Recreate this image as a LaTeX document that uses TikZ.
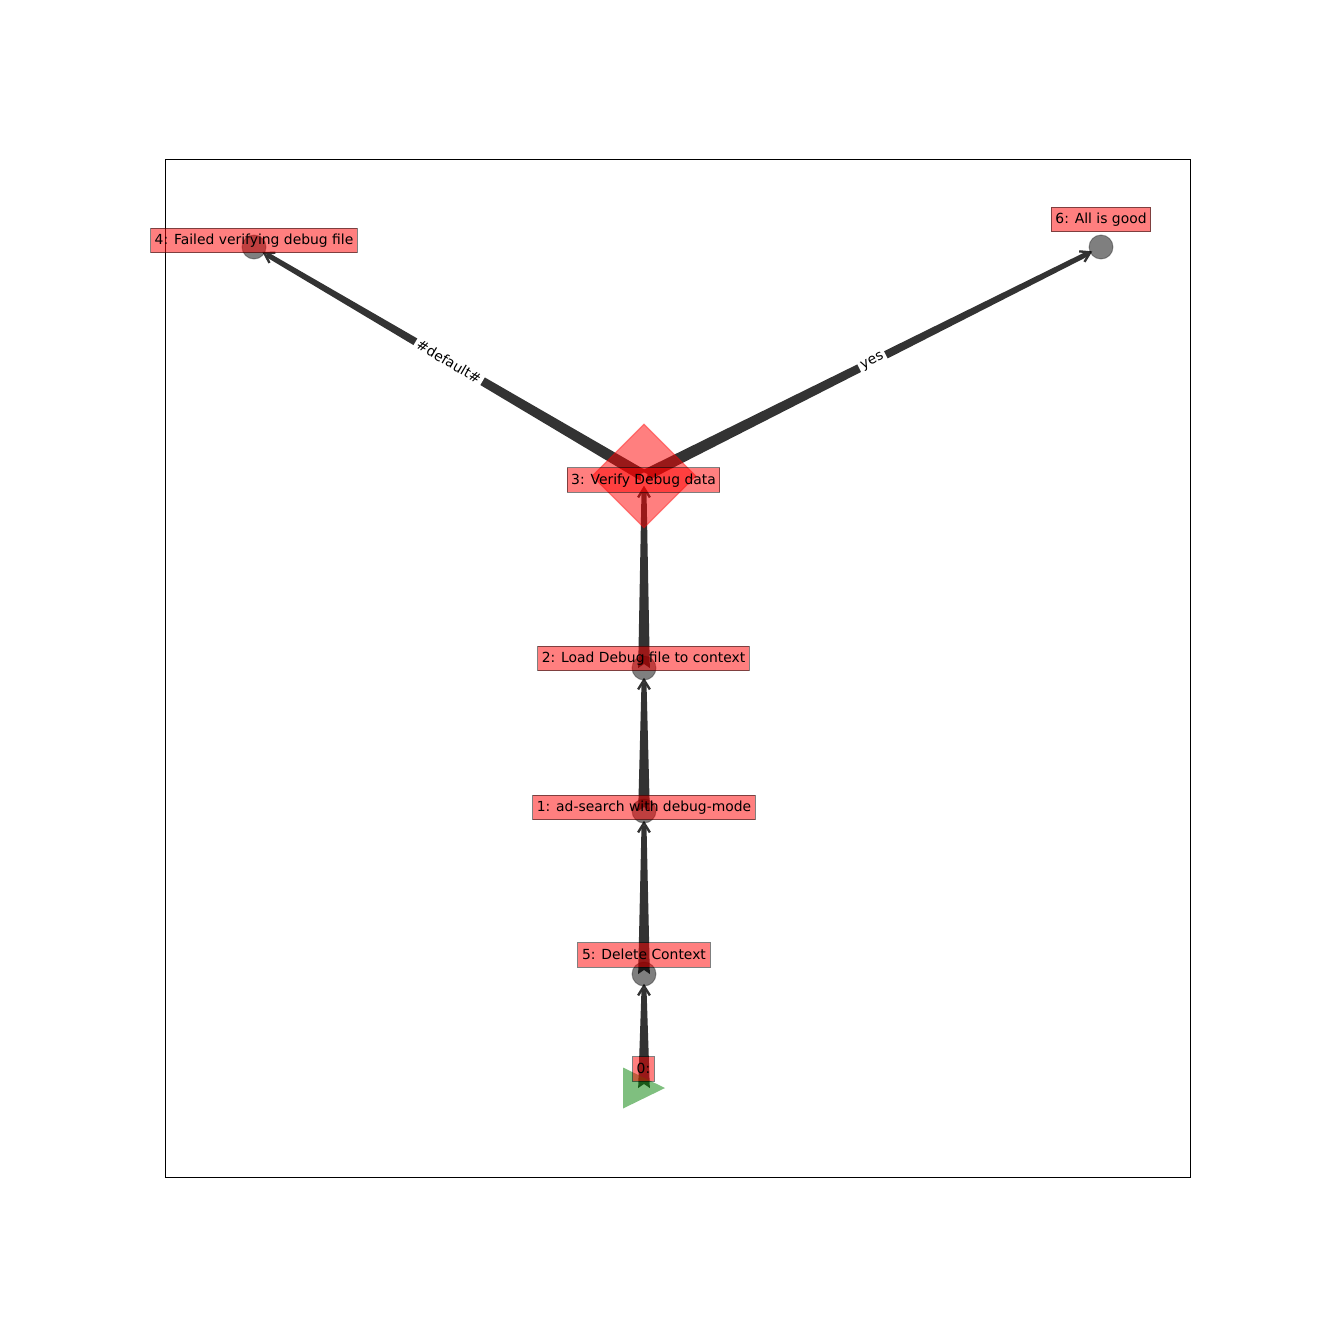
\documentclass[tikz,border=0pt]{standalone}
\usepackage{fontspec}
\setmainfont{DejaVu Sans}
\usetikzlibrary{calc,shapes.geometric}
\definecolor{edgecol}{gray}{0.2}
\tikzset{
  circnode/.style={circle, minimum size=17.28pt, inner sep=0pt, fill=black, fill opacity=0.5, draw=black, draw opacity=0.3, line width=0.72pt},
  diamnode/.style={diamond, aspect=1, minimum size=75pt, inner sep=0pt, fill=red, fill opacity=0.5, draw=red, draw opacity=0.4, line width=0.8pt},
  lab/.style={rectangle, fill=red, fill opacity=0.5, draw=black, draw opacity=0.5, text opacity=1, line width=0.72pt, inner xsep=3pt, inner ysep=3pt, text height=8.8pt, text depth=2.8pt, font=\fontsize{10pt}{12pt}\selectfont},
  elab/.style={fill=white, inner sep=2pt, sloped, pos=0.5, font=\fontsize{10pt}{12pt}\selectfont}
}
\newcommand\taperedge[2]{%
  \coordinate (tip) at ($(#2)!8.64pt!(#1)$);
  \coordinate (hb) at ($(#2)!10.5pt!(#1)$);
  \fill[edgecol] ($(#1)!4.2pt!90:(#2)$) -- ($(#1)!2.9pt!(#2)$) -- ($(#1)!4.2pt!-90:(#2)$) -- ($(hb)!1.8pt!90:(#1)$) -- ($(hb)!1.8pt!-90:(#1)$) -- cycle;
  \draw[edgecol, line width=1.7pt, line join=miter] ($(tip)!8pt!32:(#1)$) -- (tip) -- ($(tip)!8pt!-32:(#1)$);
}
\begin{document}
\begin{tikzpicture}[x=0.72pt, y=-0.72pt]
\useasboundingbox (0,0) rectangle (1322,1322);
\draw[line width=0.6pt] (165,159) rectangle (1190,1177);
% node centres
\coordinate (n0) at (644,1088);
\coordinate (n5) at (644,974);
\coordinate (n1) at (644,811);
\coordinate (n2) at (644,668);
\coordinate (n3) at (644,476);
\coordinate (n4) at (254,247);
\coordinate (n6) at (1101,247);
% edges
\taperedge{n0}{n5}
\taperedge{n5}{n1}
\taperedge{n1}{n2}
\taperedge{n2}{n3}
\taperedge{n3}{n4}
\taperedge{n3}{n6}
% markers
\fill[green!50!black, fill opacity=0.5] ($(n0)+(-21,-20.5)$) -- ($(n0)+(21,0)$) -- ($(n0)+(-21,20.5)$) -- cycle;
\node[circnode] (m5) at (n5) {};
\node[circnode] (m1) at (n1) {};
\node[circnode] (m2) at (n2) {};
\node[diamnode] (m3) at (n3) {};
\node[circnode] (m4) at (n4) {};
\node[circnode] (m6) at (n6) {};
% labels
\node[lab] (l0) at (643.5,1069) {0:};
\node[lab] (l5) at (644,955) {5: Delete Context};
\node[lab] (l1) at (644,807.5) {1: ad-search with debug-mode};
\node[lab] (l2) at (643.5,658.5) {2: Load Debug file to context};
\node[lab] (l3) at (643.5,480) {3: Verify Debug data};
\node[lab] (l4) at (254,240.5) {4: Failed verifying debug file};
\node[lab] (l6) at (1101,219.5) {6: All is good};
% edge labels
\path (n3) -- (n4) node[elab] (e34) {\#default\#};
\path (n3) -- (n6) node[elab] (e36) {yes};
\end{tikzpicture}
\end{document}
